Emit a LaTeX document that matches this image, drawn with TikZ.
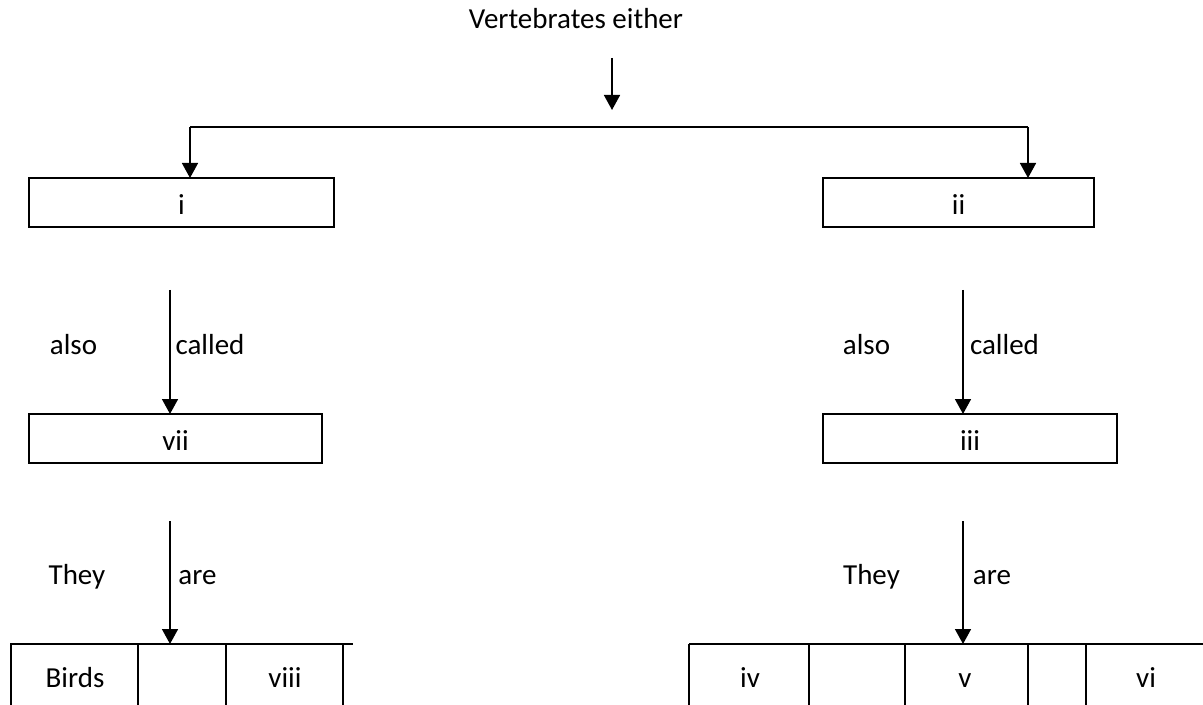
\documentclass[tikz,border=0pt]{standalone}
\usepackage{fontspec}
\setmainfont{Carlito}
\usetikzlibrary{arrows.meta}
\begin{document}
\begin{tikzpicture}[x=0.5pt,y=-0.5pt,
  every node/.style={font=\fontsize{14.5pt}{17pt}\selectfont, inner sep=0pt, outer sep=0pt,
    text height=0.68em, text depth=0.2em},
  box/.style={draw, line width=1pt, minimum height=24.5pt, anchor=north west},
  cell/.style={minimum height=30.5pt, anchor=north west},
  rule/.style={line width=1pt},
  arr/.style={line width=0.8pt, -{Triangle[length=7.5pt,width=8pt]}}]
\useasboundingbox (0,0) rectangle (1203,705);

% title and first split
\node (title) at (576,24) {Vertebrates either};
\coordinate (t1) at (612,58);
\coordinate (t2) at (612,110);
\draw[arr] (t1) -- (t2);
\coordinate (sl) at (190,127);
\coordinate (sr) at (1028,127);

% first level boxes
\node[box, minimum width=152.5pt] (bi) at (29,178) {};
\node at (181.5,210) {i};
\node[box, minimum width=135.5pt] (bii) at (823,178) {};
\node at (958.5,210) {ii};
\draw[rule] (sl) -- (sr);
\draw[arr] (sl) -- (sl |- bi.north);
\draw[arr] (sr) -- (sr |- bii.north);

% second level
\coordinate (al) at (170,290);
\coordinate (ar) at (963,290);
\node[box, minimum width=146.5pt] (bvii) at (29,414) {};
\node at (175.5,446) {vii};
\node[box, minimum width=147pt] (biii) at (823,414) {};
\node at (970,446) {iii};
\draw[arr] (al) -- (al |- bvii.north);
\draw[arr] (ar) -- (ar |- biii.north);
\node at (73.5,350) {also};
\node at (210,350) {called};
\node at (866.5,350) {also};
\node at (1004.5,350) {called};

% third level
\coordinate (bl) at (170,521);
\coordinate (br) at (963,521);
\node at (77,580) {They};
\node at (197.5,580) {are};
\node at (871.5,580) {They};
\node at (992,580) {are};

% left row of cells
\node[cell, minimum width=63.5pt] (c1) at (11,644) {};
\node[cell, minimum width=44pt] (c2) at (138,644) {};
\node[cell, minimum width=58.5pt] (c3) at (226,644) {};
\coordinate (cend) at (353,644);
\node at (75,683) {Birds};
\node at (285,683) {viii};
\draw[rule] (10,644) -- (cend);
\foreach \c in {c1,c2,c3} \draw[rule] (\c.north west) -- (\c.south west);
\draw[rule] (c3.north east) -- (c3.south east);
\draw[arr] (bl) -- (bl |- c2.north);

% right row of cells
\node[cell, minimum width=60pt] (d1) at (689,644) {};
\node[cell, minimum width=48pt] (d2) at (809,644) {};
\node[cell, minimum width=61.5pt] (d3) at (905,644) {};
\node[cell, minimum width=29pt] (d4) at (1028,644) {};
\node[cell, minimum width=58.5pt] (d5) at (1086,644) {};
\node at (750,683) {iv};
\node at (965,683) {v};
\node at (1146,683) {vi};
\draw[rule] (d1.north west) -- (d5.north east);
\foreach \c in {d1,d2,d3,d4,d5} \draw[rule] (\c.north west) -- (\c.south west);
\draw[arr] (br) -- (br |- d3.north);
\end{tikzpicture}
\end{document}
